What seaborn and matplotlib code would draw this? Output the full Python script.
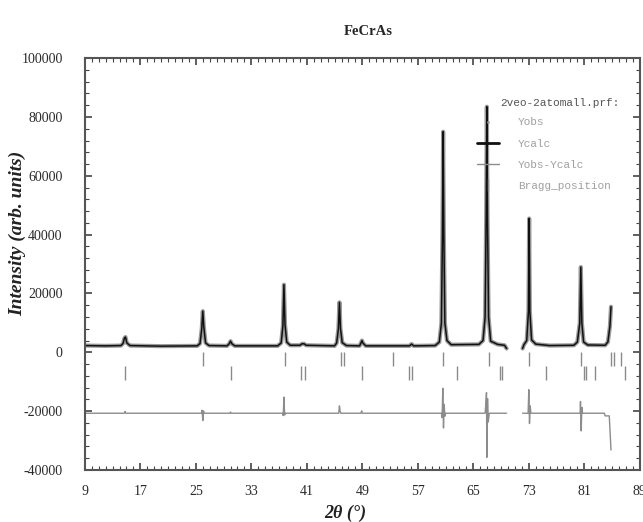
import numpy as np
import pandas as pd
import matplotlib
matplotlib.use("Agg")
import matplotlib.pyplot as plt
import seaborn as sns
from matplotlib.ticker import MultipleLocator
from matplotlib.lines import Line2D

# ---- data ----------------------------------------------------------------
# calculated / observed profile (two segments, gap between ~69.8 and ~72.1 deg)
calc_theta_a = [9.0, 12.0, 14.2, 14.5, 14.7, 14.85, 15.05, 15.5, 20.0,
                25.2, 25.6, 25.85, 26.0, 26.15, 26.4, 26.9, 29.5, 29.8, 30.0, 30.2, 30.6,
                36.8, 37.3, 37.55, 37.7, 37.85, 38.1, 38.6, 40.0, 40.3, 40.6, 40.9,
                45.0, 45.3, 45.55, 45.7, 45.85, 46.1, 46.7, 48.6, 48.8, 48.95, 49.1, 49.5,
                55.8, 56.1, 56.4, 59.5, 60.1, 60.4, 60.55, 60.65, 60.75, 60.9, 61.2, 61.8,
                65.8, 66.4, 66.7, 66.85, 66.95, 67.05, 67.2, 67.5, 68.5, 69.5, 69.8]
calc_int_a = [2300, 2200, 2300, 3000, 4800, 5200, 3200, 2300, 2100,
              2200, 3000, 8000, 14000, 8500, 3200, 2300, 2200, 2900, 3800, 2900, 2200,
              2200, 3200, 9000, 23000, 9500, 3500, 2400, 2400, 2900, 2900, 2400,
              2200, 3200, 8000, 17000, 8000, 3300, 2300, 2200, 3200, 4000, 3100, 2200,
              2200, 2800, 2200, 2300, 3500, 10000, 40000, 75000, 40000, 10000, 4000, 2600,
              2700, 4000, 12000, 45000, 83500, 45000, 12000, 3800, 2700, 2400, 1300]
calc_theta_b = [72.1, 72.3, 72.7, 72.95, 73.05, 73.15, 73.4, 74.0, 76.0,
                79.5, 80.0, 80.35, 80.5, 80.65, 80.9, 81.5, 84.0, 84.4, 84.7, 84.85]
calc_int_b = [1300, 2600, 4000, 14000, 45500, 14000, 4200, 2800, 2300,
              2400, 3500, 10000, 29000, 10000, 3500, 2500, 2400, 3500, 9000, 15500]

# Yobs - Ycalc (before the offset)
diff_theta_a = [9.0, 14.7, 14.8, 14.9, 25.8, 25.9, 26.0, 26.1, 26.2, 29.9, 30.0, 30.1,
                37.5, 37.6, 37.7, 37.8, 37.9, 45.6, 45.7, 45.8, 45.9, 48.8, 48.9, 49.0,
                60.4, 60.5, 60.6, 60.7, 60.8, 60.9, 61.0,
                66.7, 66.8, 66.9, 66.95, 67.05, 67.15, 67.3, 69.8]
diff_val_a = [0, 0, 600, 0, 0, 1000, -2500, 800, 0, 0, 400, 0,
              0, -800, 5500, -600, 0, 0, 2500, 600, 0, 0, 800, 0,
              0, -1500, 8500, -5000, 3000, -1000, 0,
              0, 3000, 7000, -15000, 5000, -3000, 0, 0]
diff_theta_b = [72.1, 72.9, 73.0, 73.1, 73.2, 73.3, 80.4, 80.45, 80.55, 80.65, 80.75,
                83.9, 84.0, 84.6, 84.85]
diff_val_b = [0, 0, 8000, -3500, 2500, 0, 0, 4000, -6000, 2000, 0,
              0, -900, -900, -12500]
diff_offset = -20700

# Bragg reflections, two phases
bragg_phase1 = [26.05, 37.8, 45.9, 46.4, 53.4, 60.7, 67.2, 73.1, 80.5, 84.9, 85.3, 86.3]
bragg_phase2 = [14.8, 30.1, 40.1, 40.8, 48.9, 55.8, 56.2, 62.7, 68.8, 69.2,
                75.5, 80.9, 81.3, 82.5, 86.8]
bragg_level = [-2300, -6900]

x_ticks = [9, 17, 25, 33, 41, 49, 57, 65, 73, 81, 89]

# ---- frames ---------------------------------------------------------------
prof = pd.concat([
    pd.DataFrame({"two_theta": calc_theta_a, "intensity": calc_int_a, "seg": 0}),
    pd.DataFrame({"two_theta": calc_theta_b, "intensity": calc_int_b, "seg": 1}),
], ignore_index=True)
diff = pd.concat([
    pd.DataFrame({"two_theta": diff_theta_a, "intensity": diff_val_a, "seg": 0}),
    pd.DataFrame({"two_theta": diff_theta_b, "intensity": diff_val_b, "seg": 1}),
], ignore_index=True)
diff["intensity"] = diff["intensity"] + diff_offset
bragg = pd.concat([
    pd.DataFrame({"two_theta": bragg_phase1, "intensity": bragg_level[0]}),
    pd.DataFrame({"two_theta": bragg_phase2, "intensity": bragg_level[1]}),
], ignore_index=True)

# ---- plot -----------------------------------------------------------------
sns.set_theme(style="ticks")
plt.rcParams["font.family"] = ["Liberation Serif", "DejaVu Serif"]
plt.rcParams["axes.unicode_minus"] = False

fig = plt.figure(figsize=(6.43, 5.22), dpi=100)
ax = fig.add_axes([0.132, 0.0996, 0.863, 0.789])

obs_col = "#9a9a9a"
calc_col = "#111111"
diff_col = "#8c8c8c"
bragg_col = "#8a8a8a"

sns.lineplot(data=prof, x="two_theta", y="intensity", units="seg", estimator=None,
             sort=False, color=obs_col, lw=3.0, ax=ax)
sns.lineplot(data=prof, x="two_theta", y="intensity", units="seg", estimator=None,
             sort=False, color=calc_col, lw=1.1, ax=ax)
sns.lineplot(data=diff, x="two_theta", y="intensity", units="seg", estimator=None,
             sort=False, color=diff_col, lw=1.0, ax=ax)
sns.scatterplot(data=bragg, x="two_theta", y="intensity", marker="|", s=100,
                color=bragg_col, linewidth=1.0, ax=ax)

ax.set_xlim(9, 89)
ax.set_ylim(-40000, 100000)
ax.set_xticks(x_ticks)
ax.xaxis.set_minor_locator(MultipleLocator(1))
ax.yaxis.set_major_locator(MultipleLocator(20000))
ax.yaxis.set_minor_locator(MultipleLocator(4000))
ax.tick_params(which="both", direction="in", top=True, right=True, colors="#444444",
               labelcolor="#2a2a2a", labelsize=10)
ax.tick_params(which="major", length=5, width=1.2)
ax.tick_params(which="minor", length=3, width=0.8)
ax.tick_params(axis="y", pad=16)
ax.tick_params(axis="x", pad=11)
for sp in ax.spines.values():
    sp.set_color("#555555")
    sp.set_linewidth(1.5)

ax.set_xlabel("2θ (°)", fontsize=13, fontweight="bold", fontstyle="italic", color="#222222")
ax.set_ylabel("Intensity (arb. units)", fontsize=14, fontweight="bold", fontstyle="italic",
              color="#222222")
ax.yaxis.set_label_coords(-0.105, 0.575)
ax.xaxis.set_label_coords(0.47, -0.085)
fig.suptitle("FeCrAs", fontsize=10.5, fontweight="bold", x=0.572, y=0.952)

# legend block: file name header plus the four entries
mono = {"family": "Liberation Mono", "size": 8}
ax.text(0.748, 0.891, "2veo-2atomall.prf:", transform=ax.transAxes, ha="left",
        va="center", color="#555555", fontdict=mono)
handles = [
    Line2D([], [], color=obs_col, lw=0, marker=".", markersize=2),
    Line2D([], [], color=calc_col, lw=2.0),
    Line2D([], [], color=diff_col, lw=1.0),
    Line2D([], [], color=bragg_col, lw=0, marker="|", markersize=8),
]
labels = ["Yobs", "Ycalc", "Yobs-Ycalc", "Bragg_position"]
leg = ax.legend(handles, labels, loc="upper left", bbox_to_anchor=(0.706, 0.856),
                frameon=False, borderpad=0, borderaxespad=0, handlelength=2.0,
                handletextpad=1.7, labelspacing=1.0, prop=mono)
for t in leg.get_texts():
    t.set_color("#a0a0a0")

fig.savefig("out.png", dpi=100)
